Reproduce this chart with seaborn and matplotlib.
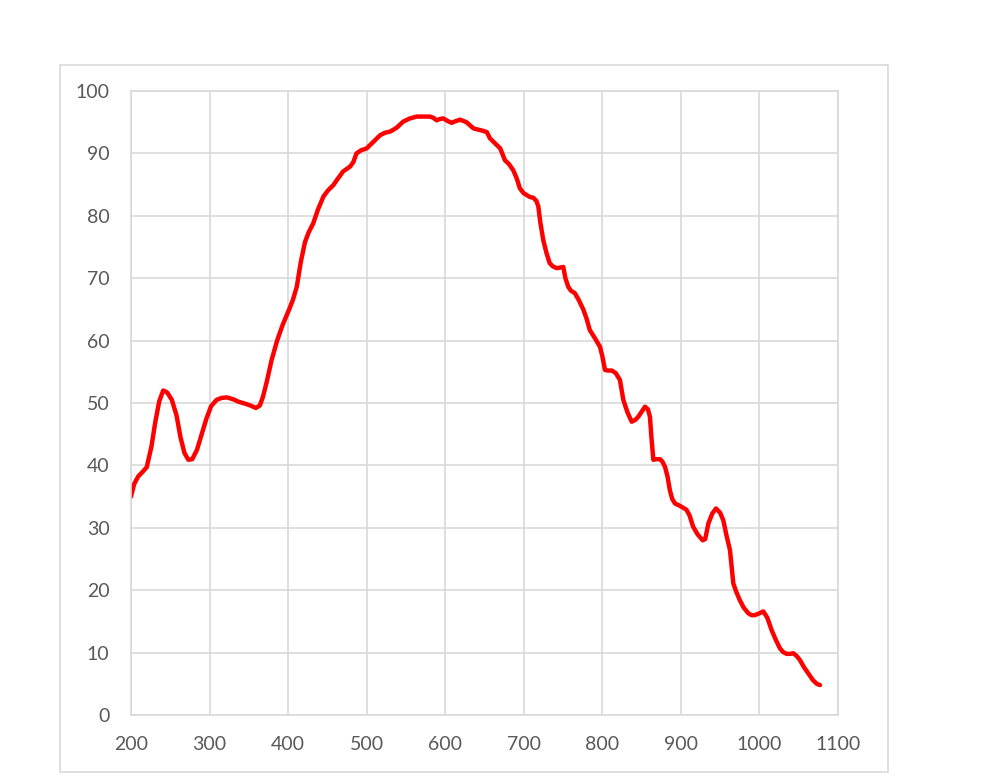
import numpy as np
import pandas as pd
import seaborn as sns
import matplotlib.pyplot as plt
from matplotlib.patches import Rectangle

# wavelength / response values
wavelength = [200, 204, 209, 215, 220, 226, 231, 236, 241, 246, 252, 258, 263, 268, 273, 278, 284,
              290, 296, 302, 309, 315, 322, 330, 337, 345, 352, 359, 364, 368, 373, 379, 386, 393,
              402, 406, 411, 416, 421.5, 426, 432, 438, 445, 451, 457.5, 463, 470, 479, 483, 487,
              493, 500, 508, 517, 523, 530, 538, 546.6, 555, 563.7, 572, 580.6, 585, 589, 593, 597.5,
              603, 608, 614, 619, 627, 636, 642, 648.5, 653, 657, 661, 666, 670, 676, 681, 686.6, 691,
              695, 700, 704, 708, 712, 716, 718.5, 721, 724.8, 729, 733, 737, 742, 746, 750.3, 753,
              756.7, 760, 765, 770, 775.7, 780, 784, 790, 797, 800, 803.4, 807, 812, 817, 822.4, 826.7,
              832, 837.4, 842, 845.8, 850, 854.3, 858, 860.6, 862.5, 864.9, 869, 873.4, 876.5, 879.7,
              883, 886, 889, 892.5, 899, 907, 911, 915.5, 921, 927.7, 931, 935, 940, 944.7, 950, 954,
              958, 962.5, 966.7, 970, 975, 980, 985.8, 990, 994, 1000, 1004.9, 1010, 1015.5, 1021,
              1026, 1030, 1034.6, 1039, 1043, 1047, 1051.6, 1056, 1062, 1068, 1073, 1077]
response = [35.0, 37.0, 38.2, 39.0, 39.7, 43.0, 47.0, 50.3, 52.0, 51.7, 50.5, 48.0, 44.5, 42.0, 40.9,
            41.0, 42.5, 45.0, 47.5, 49.5, 50.5, 50.8, 50.9, 50.6, 50.2, 49.9, 49.6, 49.2, 49.6, 51.0,
            53.5, 56.9, 60.0, 62.5, 65.2, 66.5, 68.6, 72.5, 75.8, 77.3, 78.8, 81.0, 83.1, 84.1, 84.9,
            85.9, 87.1, 87.9, 88.6, 90.0, 90.5, 90.8, 91.8, 92.9, 93.3, 93.5, 94.1, 95.1, 95.6, 95.9,
            95.9, 95.9, 95.7, 95.3, 95.5, 95.6, 95.2, 94.9, 95.2, 95.4, 95.0, 94.0, 93.8, 93.6, 93.4,
            92.4, 91.9, 91.3, 90.8, 88.9, 88.3, 87.3, 86.0, 84.4, 83.6, 83.3, 83.0, 82.9, 82.4, 81.5,
            79.0, 76.1, 74.0, 72.4, 71.9, 71.6, 71.7, 71.8, 70.0, 68.6, 68.0, 67.6, 66.5, 65.0, 63.5,
            61.7, 60.5, 59.0, 57.5, 55.3, 55.2, 55.2, 54.8, 53.7, 50.5, 48.5, 47.0, 47.3, 47.8, 48.6,
            49.4, 49.0, 47.8, 44.5, 40.9, 41.0, 41.0, 40.6, 39.8, 38.2, 36.0, 34.6, 33.9, 33.5, 32.9,
            32.0, 30.2, 29.0, 28.0, 28.2, 30.7, 32.3, 33.1, 32.4, 31.2, 28.8, 26.4, 21.1, 19.9, 18.4,
            17.2, 16.3, 16.0, 16.0, 16.3, 16.6, 15.6, 13.6, 12.0, 10.7, 10.1, 9.8, 9.8, 9.9, 9.5, 8.8,
            7.8, 6.7, 5.6, 5.0, 4.8]

df = pd.DataFrame({'wavelength': wavelength, 'response': response})

sns.set_style("whitegrid")
plt.rcParams['font.family'] = ['Lato', 'DejaVu Sans']

fig = plt.figure(figsize=(10, 7.81), dpi=100)
ax = fig.add_axes([0.131, 0.0845, 0.707, 0.799])

# outer frame round the chart area
fig.patches.append(Rectangle((0.06, 0.0115), 0.828, 0.905, transform=fig.transFigure,
                             fill=False, edgecolor='#d9d9d9', linewidth=1.2, zorder=0))

sns.lineplot(data=df, x='wavelength', y='response', color='#ff0000', linewidth=3.2, ax=ax)

ax.set_xlim(200, 1100)
ax.set_ylim(0, 100)
ax.set_xticks(np.arange(200, 1101, 100))
ax.set_yticks(np.arange(0, 101, 10))
ax.set_xlabel('')
ax.set_ylabel('')
ax.grid(True, color='#d9d9d9', linewidth=1.2)
for s in ax.spines.values():
    s.set_color('#d9d9d9')
    s.set_linewidth(1.2)
ax.tick_params(axis='both', colors='#595959', labelsize=14, length=0)
ax.tick_params(axis='y', pad=15.5)
ax.tick_params(axis='x', pad=15)

plt.savefig('out.png', dpi=100)
